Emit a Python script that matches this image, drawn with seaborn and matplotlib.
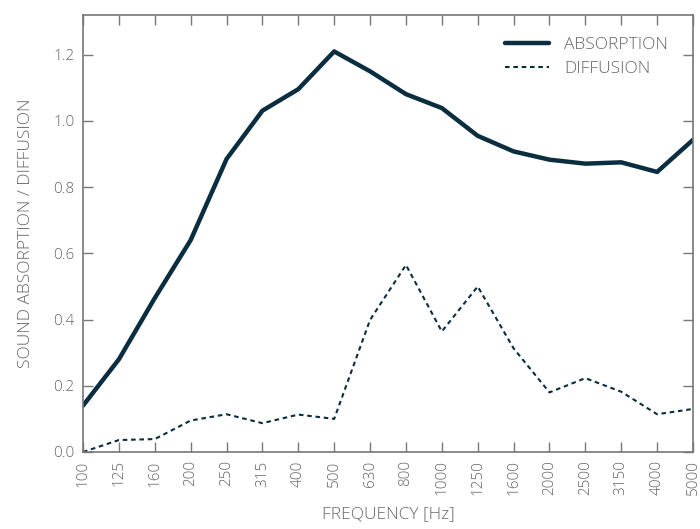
import pandas as pd
import seaborn as sns
import matplotlib.pyplot as plt

# Frequency bands (Hz)
freqs = ['100', '125', '160', '200', '250', '315', '400', '500', '630',
         '800', '1000', '1250', '1600', '2000', '2500', '3150', '4000', '5000']

# Values
absorption = [0.14, 0.28, 0.465, 0.64, 0.885, 1.031, 1.096, 1.21, 1.15,
              1.081, 1.039, 0.955, 0.908, 0.883, 0.871, 0.875, 0.846, 0.943]
diffusion = [0.0, 0.036, 0.039, 0.095, 0.114, 0.087, 0.113, 0.10, 0.399,
             0.565, 0.364, 0.50, 0.313, 0.18, 0.223, 0.182, 0.114, 0.13]

navy = '#0b2d40'
grey = '#666666'

sns.set_style('ticks')
plt.rcParams['font.family'] = ['Open Sans', 'DejaVu Sans']

df = pd.DataFrame({'freq': freqs, 'absorption': absorption, 'diffusion': diffusion})

fig = plt.figure(figsize=(7, 5.29), dpi=100)
ax = fig.add_axes([0.1186, 0.1456, 0.8714, 0.826])

sns.lineplot(data=df, x='freq', y='absorption', ax=ax, color=navy,
             linewidth=3.2, label='ABSORPTION', sort=False)
sns.lineplot(data=df, x='freq', y='diffusion', ax=ax, color=navy,
             linewidth=1.5, linestyle=(0, (2.2, 1.8)), label='DIFFUSION', sort=False)

ax.set_xlim(0, len(freqs) - 1)
ax.set_ylim(0, 1.32)
ax.set_yticks([0.0, 0.2, 0.4, 0.6, 0.8, 1.0, 1.2])
ax.set_yticklabels(['0.0', '0.2', '0.4', '0.6', '0.8', '1.0', '1.2'])
ax.set_xticks(range(len(freqs)))
ax.set_xticklabels(freqs, rotation=90)

ax.tick_params(direction='in', length=7, width=1, color='#777777',
               top=True, right=True, labelcolor=grey, labelsize=11, pad=6)
for s in ax.spines.values():
    s.set_color('#777777')
    s.set_linewidth(1.2)
    s.set_visible(True)

ax.set_xlabel('FREQUENCY [Hz]', color=grey, fontsize=12.5, fontweight='light', labelpad=8)
ax.set_ylabel('SOUND ABSORPTION / DIFFUSION', color=grey, fontsize=12.5,
              fontweight='light', labelpad=14)
for lab in ax.get_xticklabels() + ax.get_yticklabels():
    lab.set_fontweight('light')

leg = ax.legend(loc='upper right', frameon=False, fontsize=12.5, handlelength=2.5,
                handletextpad=0.9, labelspacing=0.45, bbox_to_anchor=(0.985, 0.985))
for t in leg.get_texts():
    t.set_color(grey)
    t.set_fontweight('light')

fig.savefig('out.png', dpi=100)
